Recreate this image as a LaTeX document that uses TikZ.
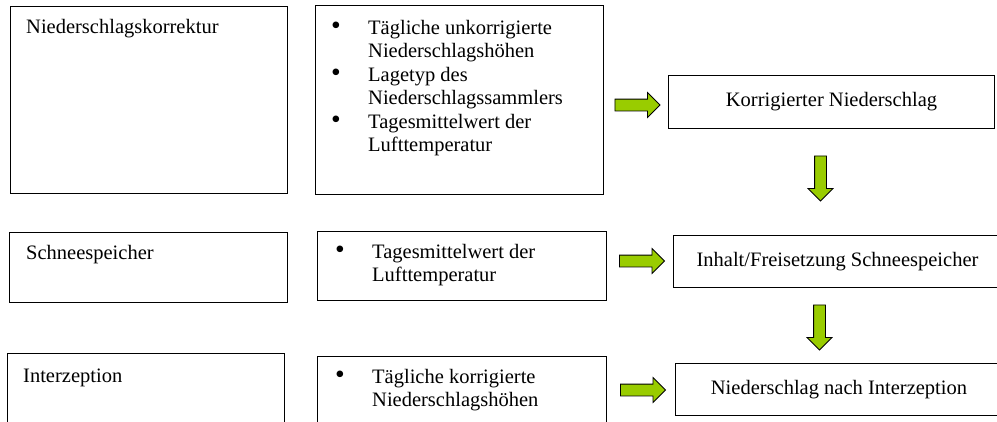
\documentclass[tikz,border=0pt]{standalone}
\usepackage{fontspec}
\setmainfont{Liberation Serif}
\newfontfamily\tnr{Liberation Serif}
\usetikzlibrary{calc,shapes.arrows}
\definecolor{arrowgreen}{RGB}{153,204,0}
\newcommand{\blt}{\makebox[37pt][l]{\raisebox{-0.6pt}{\scalebox{1.35}{\textbullet}}}}

\begin{document}
\begin{tikzpicture}[x=1pt, y=-1pt,
    every node/.style={font=\tnr\fontsize{20.5}{23.5}\selectfont},
    box/.style={draw, line width=1pt, inner sep=0pt, anchor=north west},
    txt/.style={inner sep=0pt, anchor=base west},
    grarrow/.style={single arrow, draw, fill=arrowgreen, line width=0.8pt,
        inner sep=5.5pt, single arrow head extend=6.5pt,
        minimum height=45pt}]
    \useasboundingbox (0,0) rectangle (997,421);
    \clip (0,0) rectangle (997,421);
    % --- modules ---
    \node[box, minimum width=277pt, minimum height=187pt] (korr) at (10,6) {};
    \node[box, minimum width=278pt, minimum height=70pt] (schnee) at (9,232) {};
    \node[box, minimum width=277pt, minimum height=90pt] (interz) at (7,353) {};
    \node[txt] (korrT) at ($(korr.north west)+(16,27)$) {Niederschlagskorrektur};
    \node[txt] (schneeT) at ($(schnee.north west)+(17,27)$) {Schneespeicher};
    \node[txt] (interzT) at ($(interz.north west)+(16,29)$) {Interzeption};
    % --- inputs ---
    \node[box, minimum width=288pt, minimum height=189pt] (inp1) at (315,5) {};
    \node[box, minimum width=289pt, minimum height=69pt] (inp2) at (317,231) {};
    \node[box, minimum width=289pt, minimum height=90pt] (inp3) at (317,356) {};
    \node[txt] (inp1T) at ($(inp1.north west)+(16,29)$) {%
        \begin{tabular}[t]{@{}l@{}l@{}}
            \blt & Tägliche unkorrigierte\\
                 & Niederschlagshöhen\\
            \blt & Lagetyp des\\
                 & Niederschlagssammlers\\
            \blt & Tagesmittelwert der\\
                 & Lufttemperatur
        \end{tabular}};
    \node[txt] (inp2T) at ($(inp2.north west)+(18,27)$) {%
        \begin{tabular}[t]{@{}l@{}l@{}}
            \blt & Tagesmittelwert der\\
                 & Lufttemperatur
        \end{tabular}};
    \node[txt] (inp3T) at ($(inp3.north west)+(18,27)$) {%
        \begin{tabular}[t]{@{}l@{}l@{}}
            \blt & Tägliche korrigierte\\
                 & Niederschlagshöhen
        \end{tabular}};
    % --- results ---
    \node[box, minimum width=326pt, minimum height=53pt] (res1) at (668,75) {Korrigierter Niederschlag};
    \node[box, minimum width=328pt, minimum height=52pt] (res2) at (673,235) {Inhalt/Freisetzung Schneespeicher};
    \node[box, minimum width=327pt, minimum height=52pt] (res3) at (675,363) {Niederschlag nach Interzeption};
    % --- block arrows ---
    \node[grarrow] (pf1) at (634.5,105) {};
    \node[grarrow, shape border rotate=270] (pf2) at (820.5,175.5) {};
    \node[grarrow] (pf3) at (639,261) {};
    \node[grarrow, shape border rotate=270] (pf4) at (819.5,324.5) {};
    \node[grarrow] (pf5) at (640,390) {};
\end{tikzpicture}
\end{document}
